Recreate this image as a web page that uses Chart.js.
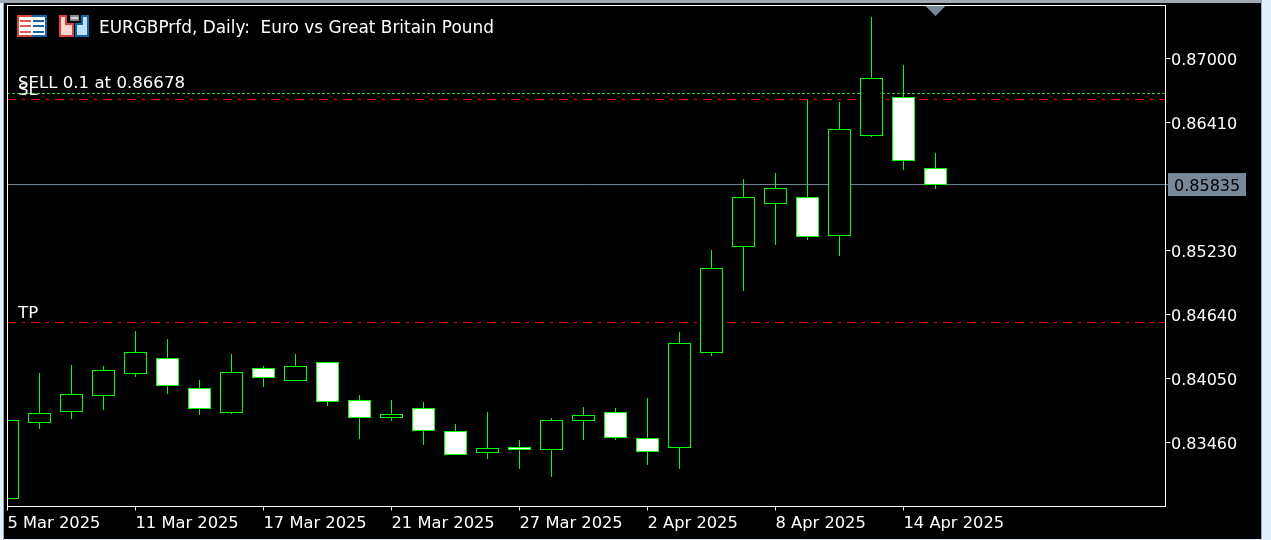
<!DOCTYPE html>
<html>
<head>
<meta charset="utf-8">
<title>EURGBPrfd, Daily</title>
<script src="https://cdn.jsdelivr.net/npm/chart.js@4"></script>
<style>
    html, body { margin: 0; padding: 0; background: #000; overflow: hidden; }
    canvas { display: block; }
</style>
</head>
<body>
<canvas id="chart_candles" width="1271" height="540"></canvas>
<script>
const categories = ['5 Mar 2025','6 Mar 2025','7 Mar 2025','10 Mar 2025','11 Mar 2025','12 Mar 2025','13 Mar 2025','14 Mar 2025','17 Mar 2025','18 Mar 2025',
    '19 Mar 2025','20 Mar 2025','21 Mar 2025','24 Mar 2025','25 Mar 2025','26 Mar 2025','27 Mar 2025','28 Mar 2025','31 Mar 2025','1 Apr 2025',
    '2 Apr 2025','3 Apr 2025','4 Apr 2025','7 Apr 2025','8 Apr 2025','9 Apr 2025','10 Apr 2025','11 Apr 2025','14 Apr 2025','15 Apr 2025'];

const opens  = [0.82939,0.83640,0.83741,0.83889,0.84092,0.84239,0.83962,0.83732,0.84147,0.84027,
                0.84202,0.83852,0.83686,0.83778,0.83566,0.83363,0.83419,0.83391,0.83658,0.83741,
                0.83502,0.83409,0.84285,0.85262,0.85659,0.85723,0.85364,0.86286,0.86645,0.85991];
const highs  = [0.83667,0.84101,0.84175,0.84165,0.84488,0.84414,0.84036,0.84276,0.84165,0.84276,
                0.84202,0.83898,0.83852,0.83833,0.83631,0.83741,0.83483,0.83686,0.83787,0.83778,
                0.83870,0.84479,0.85235,0.85889,0.85944,0.86617,0.86599,0.87383,0.86940,0.86129];
const lows   = [0.82939,0.83584,0.83677,0.83760,0.84064,0.83907,0.83714,0.83723,0.83972,0.84027,
                0.83797,0.83492,0.83658,0.83437,0.83345,0.83308,0.83216,0.83142,0.83483,0.83483,
                0.83253,0.83216,0.84257,0.84857,0.85281,0.85327,0.85179,0.86276,0.85972,0.85797];
const closes = [0.83667,0.83732,0.83907,0.84128,0.84294,0.83981,0.83769,0.84110,0.84055,0.84165,
                0.83833,0.83686,0.83723,0.83566,0.83345,0.83409,0.83391,0.83667,0.83714,0.83502,
                0.83372,0.84377,0.85069,0.85723,0.85806,0.85354,0.86350,0.86820,0.86055,0.85834];

const priceTicks = [0.87000,0.86410,0.85230,0.84640,0.84050,0.83460];
const dateTicks = [0,4,8,12,16,20,24,28];

const sellLevel = 0.86677;
const slLevel = 0.86622;
const tpLevel = 0.84566;
const bidLevel = 0.85838;
const bidText = '0.85835';
const lastBar = 29;

const FAMILY = '"DejaVu Sans"';
const GREEN = '#00ff00';
const SLATE = '#778899';

const bodies = categories.map((c, i) => ({ x: i, y: [opens[i], closes[i]] }));
const wicks = categories.map((c, i) => ({ x: i, y: [lows[i], highs[i]] }));
const bodyFill = categories.map((c, i) => closes[i] >= opens[i] ? '#000000' : '#ffffff');

function level(price) {
    return [{ x: 0, y: price }, { x: 36.1875, y: price }];
}

function icons(ctx) {
    // table icon
    ctx.fillStyle = '#d8443c';
    ctx.fillRect(17, 15, 15, 22);
    ctx.fillStyle = '#1464a8';
    ctx.fillRect(32, 15, 15, 22);
    ctx.fillStyle = '#ffffff';
    ctx.fillRect(19, 17, 26, 18);
    [20, 25, 31].forEach(y => {
        ctx.fillStyle = '#e0584e';
        ctx.fillRect(20, y, 11, 2);
        ctx.fillStyle = '#1464a8';
        ctx.fillRect(33, y, 11, 2);
    });
    // briefcase icon
    ctx.fillStyle = '#d8443c';
    ctx.fillRect(59, 15, 8, 22);
    ctx.fillRect(59, 23, 15, 14);
    ctx.fillStyle = '#ffd9d0';
    ctx.fillRect(61, 17, 4, 18);
    ctx.fillRect(61, 25, 11, 10);
    ctx.fillStyle = '#1464a8';
    ctx.fillRect(81, 15, 8, 22);
    ctx.fillRect(75, 23, 14, 14);
    ctx.fillStyle = '#bfe0fb';
    ctx.fillRect(83, 17, 4, 18);
    ctx.fillRect(77, 25, 10, 10);
    ctx.fillStyle = '#8a8a8a';
    ctx.fillRect(70, 15, 9, 6);
    ctx.fillStyle = '#d4d4d4';
    ctx.fillRect(71, 17, 7, 2);
}

const terminalFrame = {
    id: 'terminalFrame',
    beforeDraw(chart) {
        const ctx = chart.ctx;
        ctx.save();
        ctx.fillStyle = '#000000';
        ctx.fillRect(0, 0, 1271, 540);
        // window edges
        ctx.fillStyle = '#e3f0fc';
        ctx.fillRect(1262, 0, 9, 540);
        ctx.fillRect(0, 0, 3, 540);
        ctx.fillRect(0, 539, 1271, 1);
        ctx.fillStyle = '#a0a8b4';
        ctx.fillRect(0, 0, 1262, 3);
        ctx.fillRect(3, 0, 1, 540);
        ctx.fillRect(1261, 0, 1, 539);
        ctx.restore();
    },
    afterDatasetsDraw(chart) {
        const { ctx, chartArea: { left, right, top, bottom }, scales: { x, y } } = chart;
        ctx.save();
        // plot box
        ctx.strokeStyle = '#ffffff';
        ctx.lineWidth = 1;
        ctx.strokeRect(left, top, right - left, bottom - top);

        // last bar marker
        const mx = x.getPixelForValue(lastBar);
        ctx.fillStyle = SLATE;
        ctx.beginPath();
        ctx.moveTo(mx - 10, 6);
        ctx.lineTo(mx + 10, 6);
        ctx.lineTo(mx, 16);
        ctx.closePath();
        ctx.fill();

        icons(ctx);

        ctx.textAlign = 'left';
        ctx.textBaseline = 'alphabetic';
        ctx.fillStyle = '#ffffff';
        ctx.font = '16.9px ' + FAMILY;
        ctx.fillText('EURGBPrfd, Daily:  Euro vs Great Britain Pound', 99, 33);
        ctx.font = '16.6px ' + FAMILY;
        ctx.fillText('SELL 0.1 at 0.86678', 18, 88);
        ctx.fillText('SL', 18, 95);
        ctx.fillText('TP', 18, 318);

        // price labels sit a little below the tick, axis would centre them
        ctx.font = '16px ' + FAMILY;
        priceTicks.forEach(v => {
            ctx.fillText(v.toFixed(5), 1171, y.getPixelForValue(v) + 6.5);
        });

        // current price tag
        const by = y.getPixelForValue(bidLevel);
        ctx.fillStyle = SLATE;
        ctx.fillRect(1166, by - 0.5, 2, 1);
        ctx.fillRect(1168, by - 11.5, 78, 23);
        ctx.fillStyle = '#000000';
        ctx.fillText(bidText, 1174, by + 6.5);
        ctx.restore();
    }
};

new Chart(document.querySelector('#chart_candles'), {
    data: {
        datasets: [
            {
                type: 'bar', label: 'Body', data: bodies, order: 1,
                backgroundColor: bodyFill, borderColor: GREEN, borderWidth: 1,
                borderSkipped: false, inflateAmount: 0, barThickness: 23, grouped: false
            },
            {
                type: 'bar', label: 'Wick', data: wicks, order: 2,
                backgroundColor: GREEN, borderWidth: 0,
                inflateAmount: 0, barThickness: 1, grouped: false
            },
            {
                type: 'line', label: 'SELL', data: level(sellLevel), order: 3,
                borderColor: '#32cd32', borderWidth: 1, borderDash: [3, 2], borderDashOffset: 0.5, pointRadius: 0
            },
            {
                type: 'line', label: 'SL', data: level(slLevel), order: 3,
                borderColor: '#ff0000', borderWidth: 1, borderDash: [9, 6, 3, 6], borderDashOffset: 0.5, pointRadius: 0
            },
            {
                type: 'line', label: 'TP', data: level(tpLevel), order: 3,
                borderColor: '#ff0000', borderWidth: 1, borderDash: [9, 6, 3, 6], borderDashOffset: 0.5, pointRadius: 0
            },
            {
                type: 'line', label: 'Bid', data: level(bidLevel), order: 4,
                borderColor: SLATE, borderWidth: 1, pointRadius: 0
            }
        ]
    },
    options: {
        responsive: false,
        animation: false,
        devicePixelRatio: 1,
        events: [],
        layout: {
            autoPadding: false,
            padding: { left: 7.5, top: 5.5, right: 0, bottom: 0 }
        },
        plugins: { legend: { display: false }, tooltip: { enabled: false } },
        scales: {
            x: {
                type: 'linear',
                position: 'bottom',
                min: 0,
                max: 36.1875,
                offset: false,
                afterBuildTicks(axis) {
                    axis.ticks = dateTicks.map(v => ({ value: v }));
                },
                afterFit(axis) {
                    axis.height = 33.5;
                    axis.paddingLeft = 0;
                    axis.paddingRight = 0;
                },
                grid: { drawOnChartArea: false, offset: false, color: '#ffffff', tickLength: 4 },
                border: { display: false },
                ticks: {
                    color: '#ffffff', font: { family: 'DejaVu Sans', size: 16.3 },
                    align: 'start', autoSkip: false, maxRotation: 0, minRotation: 0, padding: 3,
                    callback: value => categories[value]
                }
            },
            y: {
                type: 'linear',
                position: 'right',
                min: 0.8287,
                max: 0.874886,
                afterBuildTicks(axis) {
                    axis.ticks = priceTicks.map(v => ({ value: v }));
                },
                afterFit(axis) {
                    axis.width = 105.5;
                    axis.paddingTop = 0;
                    axis.paddingBottom = 0;
                },
                grid: { drawOnChartArea: false, color: '#ffffff', tickLength: 5 },
                border: { display: false },
                ticks: { display: false }
            }
        }
    },
    plugins: [terminalFrame]
});
</script>
</body>
</html>
